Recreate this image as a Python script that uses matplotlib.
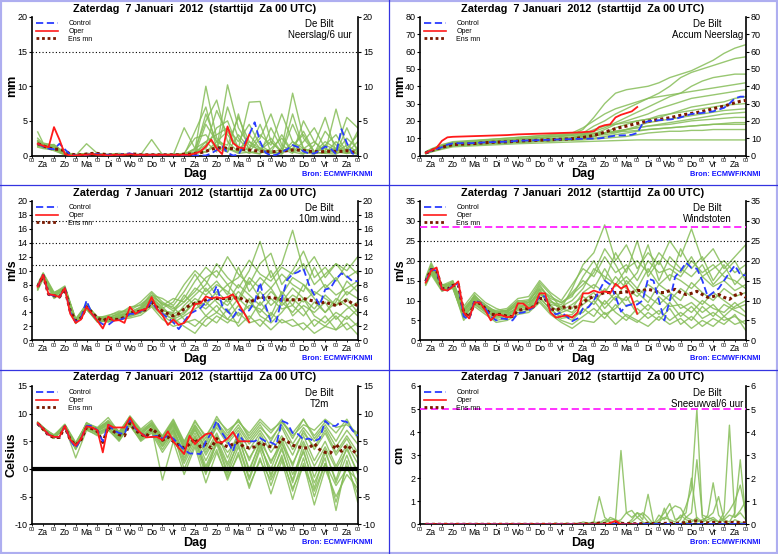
import matplotlib
matplotlib.use('Agg')
import matplotlib.pyplot as plt
from matplotlib.patches import Rectangle
from matplotlib.lines import Line2D

plt.rcParams['font.family'] = ['Liberation Sans', 'DejaVu Sans']

# ---------------- time axes (hours after Za 7 Jan 2012 00 UTC) ----------------
hours6 = list(range(6, 361, 6))          # control / ens mean, 6-hourly
hours_oper = list(range(6, 241, 6))      # operational run, 10 days
hours_mem = [6] + list(range(12, 361, 12))  # ensemble members (sampled 12-hourly)
day_names = ['Za', 'Zo', 'Ma', 'Di', 'Wo', 'Do', 'Vr', 'Za', 'Zo', 'Ma', 'Di', 'Wo', 'Do', 'Vr', 'Za']

title_text = 'Zaterdag  7 Januari  2012  (starttijd  Za 00 UTC)'
station = 'De Bilt'
source = 'Bron: ECMWF/KNMI'

# ---------------- Panel 1 : Neerslag / 6 uur (mm) ----------------
pr_control = [1.7, 1.3, 1.0, 0.9, 1.7, 0.9, 0.1, 0.0, 0.0, 0.1,
              0.2, 0.2, 0.1, 0.1, 0.1, 0.1, 0.2, 0.3, 0.1, 0.1,
              0.1, 0.1, 0.1, 0.1, 0.1, 0.1, 0.1, 0.0, 0.0, 0.0,
              0.0, 0.0, 0.3, 0.8, 1.3, 0.4, 0.0, 0.1, 1.5, 3.0,
              4.8, 2.0, 0.4, 0.0, 0.1, 0.5, 0.9, 1.5, 1.2, 0.6,
              0.3, 0.3, 0.7, 1.3, 1.0, 0.2, 3.8, 1.8, 0.3, 0.0]
pr_oper = [1.7, 1.4, 1.2, 4.1, 2.3, 0.2, 0.0, 0.0, 0.1, 0.1,
           0.2, 0.1, 0.1, 0.0, 0.1, 0.1, 0.1, 0.2, 0.1, 0.1,
           0.1, 0.1, 0.1, 0.1, 0.1, 0.1, 0.1, 0.1, 0.1, 0.3,
           0.6, 1.3, 2.3, 1.0, 0.2, 4.2, 1.8, 1.2, 1.0, 3.0]
pr_mean = [1.7, 1.4, 1.1, 0.9, 0.9, 0.7, 0.2, 0.1, 0.1, 0.2,
           0.3, 0.3, 0.2, 0.1, 0.1, 0.1, 0.1, 0.2, 0.2, 0.1,
           0.1, 0.1, 0.1, 0.1, 0.1, 0.1, 0.1, 0.2, 0.2, 0.3,
           0.4, 0.6, 0.9, 1.1, 1.1, 1.0, 1.0, 0.9, 0.9, 0.8,
           0.7, 0.6, 0.6, 0.5, 0.6, 0.6, 0.7, 0.8, 0.8, 0.7,
           0.6, 0.6, 0.5, 0.6, 0.6, 0.6, 0.6, 0.7, 0.5, 0.4]
pr_members = [
    [2.0, 1.5, 1.3, 0.2, 0.1, 0.3, 0.2, 0.1, 0.1, 0.1, 0.1, 0.1, 0.1, 0.2, 0.2, 0.8, 10.0, 2.5, 1.0, 0.5, 3.0, 1.0, 0.5, 0.3, 2.0, 0.5, 0.2, 1.5, 0.8, 0.3, 0.5],
    [1.5, 1.2, 1.0, 0.3, 0.0, 1.7, 0.3, 0.1, 0.2, 0.1, 0.0, 0.2, 0.1, 0.1, 0.3, 2.5, 3.0, 1.0, 10.2, 4.0, 1.5, 0.8, 2.0, 0.5, 1.0, 3.5, 0.5, 0.3, 0.2, 1.0, 0.2],
    [3.4, 1.8, 1.5, 0.4, 0.1, 0.2, 0.1, 0.1, 0.1, 0.2, 0.1, 2.3, 0.1, 0.1, 0.1, 0.5, 1.5, 6.5, 3.0, 1.0, 7.7, 7.8, 2.0, 0.5, 1.0, 0.3, 0.5, 2.0, 1.0, 0.5, 0.2],
    [1.2, 1.0, 0.8, 0.1, 0.0, 0.1, 0.1, 0.0, 0.1, 0.1, 0.1, 0.1, 0.2, 0.1, 4.0, 1.0, 0.5, 2.0, 1.5, 5.5, 2.0, 1.0, 0.3, 1.0, 9.0, 2.5, 0.5, 1.0, 0.3, 4.0, 0.5],
    [1.8, 1.4, 1.6, 0.3, 0.1, 0.2, 0.2, 0.1, 0.1, 0.1, 0.2, 0.1, 0.1, 0.1, 0.2, 1.0, 5.0, 8.0, 2.0, 0.5, 1.0, 3.0, 1.5, 6.0, 2.0, 1.0, 0.3, 0.5, 6.7, 1.0, 3.0],
    [2.2, 1.6, 1.1, 0.2, 0.1, 0.2, 0.1, 0.1, 0.1, 0.1, 0.1, 0.1, 0.1, 0.2, 0.1, 0.3, 2.0, 0.5, 7.0, 2.5, 0.5, 0.3, 1.0, 2.5, 0.5, 0.2, 1.5, 5.5, 0.5, 0.3, 1.0],
    [1.4, 1.3, 0.9, 0.2, 0.0, 0.1, 0.1, 0.1, 0.1, 0.1, 0.1, 0.1, 0.1, 0.1, 0.1, 3.5, 7.0, 1.0, 0.5, 6.0, 0.5, 0.2, 4.0, 1.0, 0.3, 5.0, 2.0, 0.5, 1.0, 5.5, 4.0],
    [2.5, 1.7, 1.4, 0.5, 0.1, 0.3, 0.2, 0.2, 0.3, 0.1, 0.1, 0.1, 0.1, 0.1, 0.2, 0.5, 1.0, 4.0, 5.0, 1.0, 2.0, 0.5, 0.3, 0.5, 4.5, 1.0, 0.5, 0.3, 2.0, 0.5, 0.3],
    [1.6, 1.1, 1.2, 0.3, 0.1, 0.2, 0.1, 0.1, 0.1, 0.1, 0.1, 0.1, 0.1, 0.1, 0.1, 0.2, 4.5, 2.0, 1.0, 0.3, 0.5, 2.5, 6.0, 1.5, 0.5, 2.0, 4.0, 1.0, 0.5, 2.5, 1.0],
    [1.9, 1.5, 1.0, 0.2, 0.0, 0.1, 0.1, 0.0, 0.1, 0.1, 0.1, 0.1, 0.1, 0.1, 0.1, 1.0, 2.0, 3.0, 4.0, 2.0, 4.5, 1.5, 0.5, 0.2, 1.5, 3.0, 0.5, 1.5, 3.0, 0.5, 3.5],
    [1.3, 1.2, 0.7, 0.1, 0.0, 0.1, 0.1, 0.1, 0.1, 0.1, 0.1, 0.1, 0.1, 0.1, 0.2, 0.3, 0.5, 1.5, 0.5, 3.0, 1.0, 4.5, 0.5, 3.0, 0.5, 1.0, 0.3, 3.5, 1.5, 0.3, 2.0],
    [2.1, 1.4, 1.3, 0.2, 0.1, 0.2, 0.1, 0.1, 0.1, 0.1, 0.1, 0.1, 0.1, 0.1, 0.1, 0.4, 6.0, 2.0, 3.5, 1.0, 0.3, 1.0, 2.5, 0.5, 6.0, 1.0, 2.0, 0.5, 0.5, 1.5, 0.5],
]

# ---------------- Panel 2 : Accum Neerslag (mm) ----------------
ac_control = [1.5, 2.8, 3.8, 4.8, 6.3, 7.0, 7.1, 7.1, 7.1, 7.2,
              7.4, 7.6, 7.7, 7.8, 7.9, 8.0, 8.2, 8.5, 8.6, 8.7,
              8.8, 8.9, 9.0, 9.1, 9.2, 9.3, 9.4, 9.5, 9.6, 9.6,
              9.7, 9.8, 9.9, 10.3, 11.0, 11.5, 11.6, 11.7, 12.0, 13.0,
              18.5, 19.8, 20.0, 20.4, 20.6, 20.8, 21.2, 22.0, 23.0, 24.0,
              24.3, 24.6, 25.0, 25.5, 26.5, 27.5, 30.0, 33.0, 34.0, 34.0]
ac_oper = [1.5, 3.0, 4.5, 8.5, 10.5, 10.8, 10.9, 11.0, 11.1, 11.2,
           11.3, 11.4, 11.5, 11.6, 11.7, 11.8, 12.0, 12.2, 12.3, 12.4,
           12.5, 12.6, 12.7, 12.8, 12.9, 13.0, 13.1, 13.2, 13.3, 13.5,
           13.7, 14.0, 16.5, 17.5, 18.0, 22.0, 23.5, 24.5, 25.5, 28.0]
ac_mean = [1.5, 2.8, 3.8, 4.7, 5.6, 6.3, 6.5, 6.6, 6.7, 6.9,
           7.2, 7.4, 7.6, 7.7, 7.8, 7.9, 8.1, 8.3, 8.5, 8.6,
           8.7, 8.9, 9.0, 9.1, 9.3, 9.4, 9.5, 9.7, 10.0, 10.5,
           11.0, 11.6, 12.5, 13.5, 14.5, 15.5, 16.3, 17.0, 17.8, 18.5,
           19.2, 19.8, 20.3, 20.8, 21.3, 21.8, 22.5, 23.2, 23.8, 24.3,
           24.8, 25.5, 26.2, 27.0, 27.8, 28.5, 29.5, 30.5, 31.3, 31.8]
ac_members = [
    [1.5, 2.8, 5.0, 6.5, 7.0, 7.5, 8.0, 8.5, 9.0, 9.5, 10.0, 10.5, 11.0, 11.5, 12.0, 15.0, 22.0, 30.0, 36.0, 38.0, 39.0, 40.0, 42.0, 45.0, 47.0, 49.0, 52.0, 55.0, 59.0, 62.0, 64.0],
    [1.8, 3.2, 5.5, 7.0, 7.5, 8.0, 8.3, 8.6, 9.0, 9.4, 9.8, 10.2, 10.6, 11.0, 11.5, 13.0, 17.0, 20.0, 24.0, 27.0, 30.0, 33.0, 36.0, 40.0, 45.0, 48.0, 50.0, 52.0, 54.0, 56.0, 57.0],
    [1.2, 2.5, 4.5, 6.0, 6.5, 7.0, 7.3, 7.6, 8.0, 8.4, 8.8, 9.2, 9.6, 10.0, 10.5, 12.0, 14.0, 16.0, 19.0, 22.0, 25.0, 28.0, 31.0, 34.0, 36.0, 40.0, 43.0, 45.0, 46.0, 47.0, 47.0],
    [2.0, 3.5, 6.0, 7.5, 8.0, 8.5, 9.0, 9.5, 10.0, 10.5, 11.0, 11.5, 12.0, 12.5, 13.0, 16.0, 20.0, 24.0, 27.0, 29.0, 31.0, 33.0, 34.0, 35.0, 36.0, 37.0, 38.0, 39.0, 40.0, 41.0, 42.0],
    [1.0, 2.2, 4.0, 5.5, 6.0, 6.3, 6.6, 7.0, 7.4, 7.8, 8.2, 8.6, 9.0, 9.4, 10.0, 11.0, 12.5, 15.0, 18.0, 20.0, 22.0, 24.0, 27.0, 29.0, 31.0, 33.0, 34.0, 35.0, 36.0, 37.0, 38.0],
    [1.6, 3.0, 5.0, 6.5, 7.0, 7.2, 7.5, 7.8, 8.1, 8.4, 8.7, 9.0, 9.3, 9.6, 10.0, 10.5, 11.0, 13.0, 16.0, 18.0, 20.0, 21.0, 22.0, 24.0, 26.0, 28.0, 29.0, 30.0, 31.0, 33.0, 34.0],
    [1.4, 2.6, 4.6, 6.2, 6.6, 7.0, 7.3, 7.6, 8.0, 8.3, 8.6, 9.0, 9.3, 9.6, 10.0, 12.0, 15.0, 17.0, 18.0, 19.0, 20.0, 21.0, 23.0, 24.0, 25.0, 26.0, 27.0, 28.0, 29.0, 29.5, 30.0],
    [1.7, 3.0, 5.2, 6.8, 7.2, 7.6, 8.0, 8.3, 8.6, 8.9, 9.2, 9.5, 9.8, 10.1, 10.5, 11.0, 11.5, 12.0, 13.0, 15.0, 17.0, 19.0, 20.0, 21.0, 22.0, 23.0, 24.0, 25.0, 26.0, 26.5, 27.0],
    [1.3, 2.4, 4.3, 5.8, 6.2, 6.5, 6.8, 7.1, 7.4, 7.7, 8.0, 8.3, 8.6, 8.9, 9.2, 10.0, 11.0, 13.0, 14.0, 15.0, 16.0, 17.0, 18.0, 19.0, 20.0, 21.0, 22.0, 23.0, 24.0, 24.5, 25.0],
    [1.9, 3.3, 5.6, 7.2, 7.6, 8.0, 8.4, 8.8, 9.2, 9.6, 10.0, 10.4, 10.8, 11.2, 11.6, 12.0, 12.5, 13.0, 14.0, 15.0, 16.0, 17.0, 17.5, 18.0, 19.0, 20.0, 20.5, 21.0, 21.5, 22.0, 22.0],
    [1.1, 2.3, 4.1, 5.6, 6.0, 6.3, 6.6, 6.9, 7.2, 7.5, 7.8, 8.1, 8.4, 8.7, 9.0, 9.5, 10.0, 11.0, 12.0, 13.0, 14.0, 15.0, 15.5, 16.0, 16.5, 17.0, 17.5, 18.0, 18.5, 19.0, 19.0],
    [1.5, 2.7, 4.8, 6.3, 6.7, 7.0, 7.2, 7.4, 7.6, 7.8, 8.0, 8.2, 8.4, 8.6, 8.8, 9.0, 9.5, 10.0, 10.5, 11.0, 12.0, 13.0, 13.5, 14.0, 14.0, 14.5, 14.5, 15.0, 15.0, 15.0, 15.0],
    [2.2, 3.8, 6.3, 8.0, 8.4, 8.8, 9.2, 9.6, 10.0, 10.4, 10.8, 11.2, 11.6, 12.0, 12.4, 12.8, 13.0, 13.2, 13.5, 14.0, 14.5, 15.0, 15.5, 16.0, 16.5, 17.0, 17.5, 18.0, 18.0, 18.0, 18.0],
    [1.0, 2.0, 3.6, 5.0, 5.3, 5.6, 5.9, 6.2, 6.5, 6.8, 7.0, 7.2, 7.4, 7.6, 7.8, 8.0, 8.2, 8.4, 8.6, 8.8, 9.0, 9.0, 9.0, 9.0, 9.0, 9.0, 9.0, 9.0, 9.0, 9.0, 9.0],
]

# ---------------- Panel 3 : 10m wind (m/s) ----------------
wi_control = [7.7, 9.4, 6.6, 6.4, 6.2, 7.5, 4.0, 2.6, 3.2, 5.7,
              3.8, 2.8, 2.3, 2.2, 2.8, 2.9, 3.2, 3.8, 3.8, 4.2,
              4.6, 5.5, 4.5, 3.8, 3.2, 2.6, 1.6, 2.7, 3.8, 4.2,
              4.6, 5.5, 6.0, 7.8, 5.0, 4.2, 3.3, 4.5, 4.0, 4.3,
              5.5, 8.3, 5.0, 2.7, 2.7, 6.0, 8.7, 9.5, 9.8, 10.3,
              8.0, 6.5, 5.0, 7.3, 7.5, 8.8, 9.6, 9.2, 8.5, 8.5]
wi_oper = [7.7, 9.4, 6.6, 6.5, 6.2, 7.5, 3.8, 2.5, 3.0, 4.8,
           3.8, 2.8, 1.7, 3.4, 2.8, 2.9, 2.5, 4.8, 3.8, 4.3,
           4.5, 6.2, 4.5, 3.6, 2.2, 3.0, 2.2, 2.5, 3.5, 5.2,
           5.3, 6.3, 6.0, 6.2, 6.0, 6.2, 6.6, 5.3, 4.0, 2.6]
wi_mean = [7.7, 9.3, 6.6, 6.4, 6.2, 7.4, 4.2, 2.8, 3.2, 4.8,
           4.0, 3.2, 2.8, 3.2, 3.0, 3.0, 3.3, 4.0, 4.0, 4.2,
           4.4, 5.5, 4.7, 4.2, 3.8, 3.5, 3.8, 4.5, 5.0, 5.3,
           5.5, 5.8, 6.0, 6.0, 6.0, 6.0, 6.0, 6.2, 5.8, 5.5,
           5.8, 6.3, 6.0, 6.2, 6.0, 5.8, 5.8, 5.8, 5.8, 6.0,
           5.8, 5.6, 5.3, 5.5, 5.2, 5.0, 5.3, 5.8, 5.3, 5.0]
wi_members = [
    [7.2, 8.8, 6.0, 7.0, 2.4, 4.5, 2.6, 2.8, 3.5, 3.8, 4.5, 6.0, 4.0, 3.0, 5.0, 6.5, 8.0, 11.0, 9.0, 7.5, 10.0, 14.2, 9.0, 11.0, 15.8, 10.0, 12.0, 9.0, 11.0, 10.0, 12.0],
    [8.0, 9.6, 6.8, 7.8, 3.0, 5.2, 3.2, 3.6, 4.0, 4.5, 5.5, 7.0, 5.5, 4.5, 6.0, 8.5, 10.5, 9.0, 12.0, 9.5, 8.0, 11.0, 12.5, 8.0, 10.0, 12.8, 9.0, 10.5, 8.5, 11.0, 9.5],
    [7.5, 9.0, 6.4, 7.2, 2.6, 4.8, 2.9, 3.0, 3.2, 3.5, 4.0, 5.0, 3.5, 2.5, 3.5, 4.5, 5.5, 4.0, 6.0, 3.5, 5.0, 4.5, 3.0, 5.5, 4.0, 6.0, 3.5, 2.5, 4.0, 3.0, 4.5],
    [7.9, 9.2, 6.5, 7.6, 2.8, 5.0, 3.4, 3.3, 3.8, 4.8, 5.0, 6.5, 6.0, 5.0, 7.0, 9.5, 7.0, 8.5, 6.5, 10.5, 7.0, 9.0, 7.5, 9.5, 8.0, 7.0, 10.5, 7.5, 9.0, 6.5, 8.0],
    [7.3, 9.5, 6.2, 7.3, 2.5, 4.6, 2.7, 2.7, 3.0, 3.2, 3.6, 4.8, 3.0, 2.0, 2.5, 3.0, 2.0, 3.5, 2.5, 4.0, 2.5, 3.0, 1.5, 3.0, 2.0, 2.5, 1.0, 2.0, 1.5, 2.5, 0.8],
    [7.8, 9.1, 6.7, 7.4, 2.7, 5.3, 3.0, 3.5, 4.2, 4.0, 4.8, 6.8, 5.0, 6.0, 5.5, 7.5, 6.5, 8.0, 7.0, 5.5, 8.5, 6.0, 7.5, 5.0, 6.5, 5.5, 7.0, 6.0, 5.0, 7.0, 6.0],
    [7.6, 9.4, 6.3, 7.7, 2.9, 4.4, 2.8, 2.9, 3.6, 3.9, 4.2, 5.5, 4.5, 3.5, 4.0, 5.5, 4.5, 6.0, 5.0, 7.0, 5.5, 4.0, 6.0, 4.5, 5.0, 3.5, 5.5, 4.0, 6.0, 5.0, 3.5],
    [7.4, 8.9, 6.6, 7.1, 2.5, 4.7, 3.1, 2.6, 3.3, 3.6, 4.3, 5.8, 4.2, 4.0, 6.5, 5.0, 7.5, 5.5, 4.0, 6.0, 4.5, 7.0, 5.0, 6.5, 3.5, 5.0, 4.0, 5.5, 3.0, 4.5, 5.5],
    [8.1, 9.7, 6.9, 7.5, 3.1, 5.1, 3.3, 3.2, 3.9, 4.3, 5.2, 6.3, 5.2, 4.8, 3.0, 2.0, 3.5, 2.5, 4.5, 2.0, 3.5, 2.0, 4.0, 2.5, 3.0, 1.5, 3.0, 2.0, 3.5, 1.5, 2.5],
    [7.7, 9.3, 6.5, 7.3, 2.6, 4.9, 2.9, 3.1, 3.4, 3.7, 4.6, 6.1, 4.8, 3.2, 2.0, 1.0, 3.0, 4.0, 3.0, 5.0, 3.0, 5.5, 3.5, 7.0, 5.0, 8.0, 6.0, 4.0, 5.5, 8.5, 7.0],
    [7.5, 9.0, 6.6, 7.5, 2.8, 5.0, 3.0, 3.0, 3.5, 4.0, 4.5, 6.0, 4.6, 5.5, 8.0, 10.0, 8.5, 6.5, 8.0, 6.0, 9.0, 7.5, 10.0, 6.5, 9.0, 8.0, 6.5, 8.0, 6.5, 7.5, 8.5],
    [7.8, 9.5, 6.4, 7.6, 2.6, 4.7, 2.7, 2.8, 3.1, 3.4, 3.9, 5.2, 3.8, 3.0, 3.8, 5.5, 3.5, 5.0, 3.0, 2.5, 6.0, 3.5, 2.5, 4.0, 6.0, 4.5, 2.0, 3.5, 1.5, 3.5, 2.0],
    [7.6, 9.2, 6.7, 7.4, 2.7, 4.8, 3.0, 3.2, 3.7, 4.1, 4.7, 6.4, 5.3, 4.2, 5.5, 7.0, 9.0, 10.0, 8.0, 9.0, 11.5, 9.5, 8.5, 10.5, 9.5, 11.0, 8.0, 9.5, 11.0, 9.0, 10.0],
    [7.4, 9.3, 6.5, 7.2, 2.5, 4.6, 2.8, 2.7, 3.3, 3.8, 4.1, 5.6, 4.3, 3.8, 4.5, 6.0, 5.0, 7.0, 5.5, 8.0, 6.5, 5.0, 7.0, 5.5, 7.5, 6.0, 4.5, 6.5, 5.0, 6.0, 4.0],
]

# ---------------- Panel 4 : Windstoten (m/s) ----------------
gu_control = [14.8, 17.8, 17.5, 12.8, 12.5, 13.8, 14.3, 6.0, 5.2, 10.0,
              9.5, 8.0, 6.0, 5.0, 5.5, 5.3, 5.0, 6.8, 7.0, 7.5,
              8.5, 11.2, 11.0, 7.5, 6.5, 7.0, 6.0, 4.8, 5.5, 8.0,
              8.3, 10.0, 12.5, 15.0, 14.0, 11.0, 7.2, 8.7, 9.0, 9.0,
              10.0, 15.5, 15.0, 10.0, 5.0, 10.0, 16.0, 17.5, 19.5, 18.2,
              18.0, 15.0, 11.0, 12.0, 13.0, 15.0, 17.0, 18.8, 16.5, 16.3]
gu_oper = [14.5, 17.5, 18.3, 12.8, 12.5, 13.5, 14.8, 7.0, 5.5, 9.5,
           9.5, 7.5, 5.0, 6.5, 6.3, 5.8, 6.0, 9.3, 9.2, 8.0,
           8.5, 11.8, 11.8, 7.0, 5.7, 6.0, 6.3, 5.7, 7.0, 11.8,
           11.8, 12.5, 12.0, 12.3, 11.8, 14.2, 13.0, 13.8, 10.5, 6.7]
gu_mean = [14.8, 17.8, 17.5, 13.0, 12.8, 13.8, 14.0, 7.0, 5.8, 9.5,
           9.3, 8.0, 6.5, 6.5, 6.5, 6.0, 6.0, 7.5, 7.8, 8.0,
           8.5, 10.5, 10.5, 8.0, 7.5, 8.2, 8.5, 8.0, 8.5, 9.5,
           10.5, 11.0, 11.5, 12.0, 12.0, 12.0, 12.0, 12.2, 12.0, 12.5,
           12.5, 12.8, 12.5, 12.0, 12.0, 12.5, 12.8, 12.0, 11.5, 11.8,
           12.3, 11.5, 10.8, 11.0, 11.5, 10.8, 10.3, 11.3, 11.8, 10.8]
gu_members = [
    [15.0, 18.5, 13.5, 14.5, 8.0, 11.0, 9.0, 7.0, 7.5, 10.0, 9.5, 14.0, 10.0, 8.0, 13.0, 19.0, 22.0, 29.0, 20.0, 24.0, 18.0, 22.0, 19.0, 25.0, 21.0, 28.0, 20.0, 23.0, 18.0, 21.0, 24.0],
    [14.0, 17.0, 12.5, 13.0, 6.0, 9.0, 7.0, 5.0, 5.5, 7.0, 7.5, 10.0, 7.0, 5.0, 4.0, 6.0, 8.0, 5.5, 9.0, 6.0, 4.5, 7.0, 5.0, 8.0, 4.0, 6.0, 3.5, 5.5, 4.0, 6.5, 2.5],
    [15.5, 19.0, 13.8, 15.0, 7.5, 10.5, 8.5, 6.5, 7.0, 9.0, 10.0, 13.0, 11.0, 9.5, 11.0, 16.0, 20.0, 15.0, 22.0, 17.0, 25.0, 16.0, 20.0, 15.0, 23.0, 18.0, 21.0, 15.0, 19.0, 14.0, 17.0],
    [14.5, 17.5, 13.0, 14.0, 6.5, 10.0, 7.5, 6.0, 6.5, 8.5, 8.5, 12.0, 8.5, 7.0, 8.0, 12.0, 14.0, 12.0, 16.0, 13.0, 11.0, 14.0, 12.0, 10.0, 13.0, 11.0, 9.0, 12.0, 10.0, 8.0, 9.0],
    [13.8, 16.5, 12.3, 13.5, 5.0, 8.5, 6.5, 4.5, 5.0, 6.5, 7.0, 9.5, 6.5, 4.5, 3.0, 5.0, 4.5, 7.0, 4.0, 6.5, 5.0, 3.5, 6.0, 4.0, 5.5, 3.0, 5.0, 3.5, 6.0, 4.0, 5.0],
    [15.2, 18.0, 13.2, 14.2, 7.0, 11.5, 8.0, 7.5, 8.0, 10.5, 11.0, 15.0, 12.0, 10.0, 14.0, 18.0, 16.0, 21.0, 17.0, 19.0, 15.0, 20.0, 17.0, 18.0, 16.0, 20.0, 17.0, 19.0, 16.0, 15.0, 13.0],
    [14.3, 17.2, 12.8, 13.2, 5.5, 9.5, 7.5, 5.5, 6.0, 7.5, 8.0, 11.0, 7.5, 6.0, 6.5, 9.0, 11.0, 9.0, 12.0, 8.5, 10.0, 7.5, 11.0, 8.5, 9.0, 7.0, 10.0, 8.0, 7.0, 9.5, 7.0],
    [14.8, 18.2, 13.0, 14.8, 8.5, 12.0, 9.5, 8.0, 7.0, 9.5, 9.0, 12.5, 9.0, 8.5, 10.0, 13.0, 18.0, 16.0, 14.0, 18.0, 20.0, 17.0, 22.0, 19.0, 17.0, 21.0, 16.0, 18.0, 20.0, 17.0, 19.0],
    [14.6, 17.8, 13.5, 13.8, 6.2, 9.8, 8.0, 6.2, 6.8, 8.0, 9.5, 11.5, 10.0, 7.5, 9.0, 11.0, 9.0, 13.0, 10.0, 15.0, 12.0, 9.5, 14.0, 12.0, 10.0, 14.5, 12.0, 10.0, 13.0, 11.0, 12.0],
    [15.8, 19.5, 14.0, 14.0, 7.2, 10.2, 8.2, 6.8, 7.2, 8.8, 8.8, 12.8, 8.8, 6.5, 5.0, 8.0, 6.0, 10.0, 7.0, 5.0, 8.0, 5.5, 7.5, 5.0, 7.0, 5.0, 8.5, 6.0, 9.0, 7.5, 6.0],
    [14.2, 17.0, 12.6, 13.6, 6.8, 10.8, 7.8, 6.6, 6.4, 8.2, 8.2, 11.8, 9.5, 9.0, 12.0, 15.0, 13.0, 18.0, 13.5, 16.0, 13.0, 18.0, 14.0, 16.5, 15.0, 13.0, 16.0, 13.5, 15.0, 12.5, 14.0],
    [15.0, 18.8, 13.6, 14.6, 7.8, 11.2, 8.8, 7.2, 7.6, 9.8, 10.2, 14.5, 11.5, 8.0, 7.0, 10.0, 12.0, 8.0, 11.0, 10.0, 13.0, 11.0, 9.0, 11.5, 8.0, 9.5, 7.0, 9.0, 6.0, 8.5, 10.0],
    [14.4, 17.6, 12.9, 13.4, 6.0, 9.2, 7.2, 5.8, 6.2, 7.8, 7.8, 10.5, 8.0, 5.5, 6.0, 7.0, 10.0, 6.5, 8.0, 11.0, 6.5, 9.0, 6.5, 9.5, 6.0, 8.5, 5.5, 7.0, 5.0, 6.0, 4.0],
    [15.4, 18.4, 13.4, 14.4, 7.4, 10.6, 8.4, 7.0, 7.4, 9.2, 9.6, 13.5, 10.5, 9.5, 11.5, 14.0, 17.0, 23.0, 19.0, 14.0, 17.0, 24.0, 15.0, 21.0, 18.0, 16.0, 19.0, 14.0, 17.0, 20.0, 15.0],
]

# ---------------- Panel 5 : T2m (Celsius) ----------------
t2_control = [8.2, 7.3, 6.2, 5.8, 5.8, 7.8, 5.2, 3.8, 5.5, 7.8,
              7.8, 7.0, 5.0, 8.0, 7.0, 6.5, 6.3, 9.0, 7.3, 6.5,
              5.8, 5.8, 6.0, 5.5, 6.0, 5.5, 4.5, 3.5, 2.8, 2.8,
              2.7, 5.0, 6.5, 8.7, 6.5, 5.0, 3.2, 6.3, 5.0, 5.0,
              5.0, 5.6, 5.0, 4.8, 4.3, 8.7, 8.3, 6.5, 6.3, 5.3,
              5.5, 5.0, 5.5, 8.7, 7.8, 7.8, 8.7, 8.5, 7.0, 6.0]
t2_oper = [8.3, 7.3, 6.2, 5.8, 5.8, 7.8, 5.3, 4.2, 5.5, 7.7,
           7.5, 7.0, 3.0, 8.0, 7.5, 7.5, 7.5, 9.3, 7.5, 6.5,
           5.7, 5.8, 5.8, 5.2, 6.8, 5.0, 3.8, 2.7, 6.0, 4.5,
           5.5, 6.3, 6.5, 4.8, 4.8, 5.5, 6.7, 5.0, 5.0, 5.0]
t2_mean = [8.2, 7.2, 6.1, 5.7, 5.7, 7.6, 5.3, 4.3, 5.3, 7.5,
           7.3, 6.8, 4.8, 7.6, 6.8, 6.2, 6.0, 8.3, 7.0, 6.3,
           5.8, 7.3, 6.5, 5.2, 5.8, 5.0, 4.3, 3.8, 4.5, 5.5,
           4.0, 4.5, 3.8, 5.5, 4.5, 4.0, 4.5, 4.8, 4.0, 3.8,
           4.0, 4.8, 4.3, 4.0, 4.0, 5.5, 5.0, 4.3, 4.0, 3.8,
           3.8, 4.6, 3.5, 3.0, 2.9, 4.5, 3.2, 4.3, 3.5, 2.5]
t2_members = [
    [8.4, 7.5, 5.9, 8.0, 4.5, 8.2, 7.4, 8.5, 6.5, 9.5, 6.8, 7.8, 5.8, 8.5, 4.5, 8.0, 5.0, 8.5, 6.0, 9.0, 5.5, 8.0, 5.0, 8.5, 6.5, 9.0, 5.5, 8.0, 5.0, 8.5, 6.0],
    [8.0, 7.1, 5.6, 7.6, 3.8, 7.5, 6.5, 7.5, 5.5, 8.5, 5.5, 7.0, 4.5, 7.0, 3.0, 6.5, 2.5, 6.0, 3.0, 5.5, 2.0, 5.0, 1.5, 4.5, 1.0, 5.0, 0.5, 4.0, 0.0, 3.5, -0.5],
    [8.2, 7.3, 5.8, 7.9, 4.2, 7.9, 7.0, 8.0, 6.0, 9.0, 6.2, 8.0, 5.2, 7.8, 3.8, 7.0, 4.0, 7.5, 4.5, 7.0, 3.5, 6.5, 3.0, 6.0, 2.5, 7.0, 3.5, 6.5, 2.5, 5.5, 2.0],
    [8.3, 7.4, 5.7, 7.7, 2.0, 7.0, 6.2, 7.2, 5.0, 8.0, 5.0, 6.5, 3.0, 6.0, 1.0, 5.0, 0.0, 4.5, -1.0, 4.0, -2.0, 3.5, -3.0, 2.5, -4.0, 2.0, -5.0, 1.0, -6.0, 0.5, -4.5],
    [8.1, 7.2, 6.0, 7.8, 4.0, 8.4, 7.2, 8.8, 6.8, 9.3, 7.0, 8.3, 6.0, 9.0, 5.0, 8.5, 6.0, 9.0, 7.0, 8.5, 6.5, 9.0, 7.0, 8.5, 6.0, 8.0, 7.0, 9.0, 7.5, 8.0, 6.5],
    [8.5, 7.6, 5.8, 7.5, 4.3, 7.6, 6.8, 8.2, 5.8, 8.8, 6.0, 7.5, 4.8, 7.5, 2.5, 6.0, 1.5, 5.5, 1.0, 6.0, -0.5, 5.0, -1.5, 4.0, -2.5, 3.5, -3.5, 3.0, -2.0, 4.0, -1.0],
    [8.2, 7.0, 5.5, 7.4, 3.5, 7.2, 6.0, 7.0, 5.2, 7.8, 5.2, 6.8, 3.5, 6.5, 0.0, 4.5, -1.0, 5.0, 0.5, 4.5, -1.5, 4.0, 0.0, 5.0, -1.0, 3.0, -2.5, 2.0, -7.5, 1.5, -6.0],
    [8.3, 7.5, 6.1, 8.1, 4.8, 8.0, 7.3, 8.6, 6.3, 9.2, 6.5, 8.5, 5.5, 8.2, 4.2, 7.5, 3.5, 8.0, 5.0, 7.5, 4.5, 7.0, 4.0, 7.5, 3.5, 6.5, 4.0, 7.0, 3.0, 6.0, 3.0],
    [8.0, 7.2, 5.9, 7.7, 4.1, 7.7, 6.9, 7.8, 6.2, 8.6, 5.8, 7.2, 4.2, 7.2, 2.0, 5.5, -0.5, 3.5, -2.0, 3.0, -3.5, 2.0, -4.5, 1.5, -5.5, 1.0, -6.5, 0.0, -5.0, -1.0, -3.5],
    [8.4, 7.4, 5.7, 7.9, 4.4, 7.8, 7.1, 8.3, 5.9, 8.9, 6.3, 7.9, 5.0, 8.0, 3.5, 7.2, 3.0, 6.5, 2.0, 6.5, 1.5, 6.0, 1.0, 5.5, 0.5, 6.0, 1.5, 5.0, 0.5, 4.5, 1.0],
    [8.1, 7.3, 6.2, 7.6, 3.9, 7.4, 6.6, 7.6, 5.6, 8.2, 5.6, 7.4, -2.0, 5.0, -1.0, 4.0, -2.5, 3.0, -1.5, 2.5, -3.0, 1.5, -2.0, 2.0, -3.5, 0.5, -4.0, 1.0, -3.0, 0.0, -2.0],
    [8.2, 7.3, 5.8, 7.8, 4.3, 8.1, 7.2, 8.4, 6.4, 9.1, 6.6, 8.1, 5.3, 8.3, 4.0, 7.8, 4.5, 8.3, 5.5, 8.0, 5.0, 7.5, 5.5, 8.0, 4.5, 7.5, 5.0, 7.5, 4.0, 7.0, 4.5],
    [8.3, 7.2, 5.6, 7.5, 3.6, 7.3, 6.4, 7.3, 5.3, 8.4, 5.3, 7.0, 4.0, 6.8, 1.5, 5.8, 0.5, 5.0, -0.5, 5.5, 0.0, 4.5, -1.0, 3.5, -2.0, 4.5, -1.5, 3.5, -2.5, 2.5, -3.0],
    [8.2, 7.4, 6.0, 8.0, 4.6, 8.3, 7.5, 9.3, 6.6, 9.6, 7.2, 8.8, 5.8, 8.8, 4.8, 8.8, 5.5, 9.5, 6.5, 8.8, 6.0, 8.5, 6.5, 9.0, 5.5, 9.0, 6.0, 8.5, 6.5, 9.0, 5.5],
]

# ---------------- Panel 6 : Sneeuwval / 6 uur (cm) ----------------
sn_control = [0.0] * 60
sn_oper = [0.0, 0.0, 0.0, 0.0, 0.0, 0.0, 0.0, 0.0, 0.0, 0.0,
           0.0, 0.0, 0.0, 0.0, 0.0, 0.0, 0.0, 0.0, 0.0, 0.0,
           0.0, 0.0, 0.0, 0.0, 0.0, 0.0, 0.0, 0.0, 0.0, 0.0,
           0.0, 0.0, 0.0, 0.0, 0.05, 0.15, 0.0, 0.0, 0.0, 0.0]
sn_mean = [0.0, 0.0, 0.0, 0.0, 0.0, 0.0, 0.0, 0.0, 0.0, 0.0,
           0.0, 0.0, 0.0, 0.0, 0.0, 0.0, 0.0, 0.0, 0.0, 0.0,
           0.0, 0.0, 0.0, 0.0, 0.0, 0.0, 0.0, 0.0, 0.01, 0.02,
           0.02, 0.03, 0.05, 0.03, 0.03, 0.08, 0.04, 0.03, 0.03, 0.02,
           0.03, 0.04, 0.03, 0.03, 0.04, 0.05, 0.04, 0.05, 0.08, 0.12,
           0.15, 0.08, 0.06, 0.08, 0.07, 0.08, 0.09, 0.07, 0.08, 0.06]
sn_members = [
    [0.0, 0.0, 0.0, 0.0, 0.0, 0.0, 0.0, 0.0, 0.0, 0.0, 0.0, 0.0, 0.0, 0.0, 0.0, 0.0, 0.0, 0.0, 0.0, 0.0,
     0.0, 0.0, 0.0, 0.0, 0.0, 0.0, 0.0, 0.0, 0.0, 0.0, 0.05, 0.1, 1.2, 0.3, 0.1, 0.0, 0.0, 0.0, 0.0, 0.0,
     0.0, 0.1, 0.0, 0.0, 0.0, 0.0, 0.0, 0.0, 0.1, 0.0, 0.0, 0.0, 0.0, 0.0, 0.0, 0.0, 0.0, 0.0, 0.0, 0.0],
    [0.0, 0.0, 0.0, 0.0, 0.0, 0.0, 0.0, 0.0, 0.0, 0.0, 0.0, 0.0, 0.0, 0.0, 0.0, 0.0, 0.0, 0.0, 0.0, 0.0,
     0.0, 0.0, 0.0, 0.0, 0.0, 0.0, 0.0, 0.0, 0.0, 0.0, 0.0, 0.0, 0.0, 0.1, 0.2, 0.2, 3.2, 0.5, 0.6, 0.3,
     0.1, 0.0, 0.0, 0.0, 0.0, 0.0, 0.0, 0.0, 0.0, 0.0, 0.0, 0.0, 0.0, 0.0, 0.0, 0.0, 0.0, 0.0, 0.0, 0.0],
    [0.0, 0.0, 0.0, 0.0, 0.0, 0.0, 0.0, 0.0, 0.0, 0.0, 0.0, 0.0, 0.0, 0.0, 0.0, 0.0, 0.0, 0.0, 0.0, 0.0,
     0.0, 0.0, 0.0, 0.0, 0.0, 0.0, 0.0, 0.0, 0.0, 0.0, 0.0, 0.0, 0.0, 0.0, 0.0, 0.1, 0.2, 0.5, 0.3, 0.5,
     0.2, 1.3, 0.1, 0.0, 0.7, 0.1, 0.0, 0.0, 0.0, 0.0, 0.0, 0.0, 0.0, 0.0, 0.0, 0.0, 0.0, 0.0, 0.0, 0.0],
    [0.0, 0.0, 0.0, 0.0, 0.0, 0.0, 0.0, 0.0, 0.0, 0.0, 0.0, 0.0, 0.0, 0.0, 0.0, 0.0, 0.0, 0.0, 0.0, 0.0,
     0.0, 0.0, 0.0, 0.0, 0.0, 0.0, 0.0, 0.0, 0.0, 0.0, 0.0, 0.0, 0.0, 0.0, 0.0, 0.0, 0.0, 0.0, 0.0, 0.0,
     0.0, 0.0, 0.0, 0.2, 0.5, 0.9, 0.2, 0.3, 0.5, 2.0, 0.2, 0.1, 0.4, 1.8, 0.4, 0.1, 0.0, 0.2, 0.1, 0.0],
    [0.0, 0.0, 0.0, 0.0, 0.0, 0.0, 0.0, 0.0, 0.0, 0.0, 0.0, 0.0, 0.0, 0.0, 0.0, 0.0, 0.0, 0.0, 0.0, 0.0,
     0.0, 0.0, 0.0, 0.0, 0.0, 0.0, 0.0, 0.0, 0.0, 0.0, 0.0, 0.0, 0.0, 0.0, 0.0, 0.0, 0.0, 0.0, 0.0, 0.0,
     0.0, 0.0, 0.0, 0.0, 0.0, 0.0, 0.0, 0.2, 0.8, 1.5, 5.0, 0.3, 0.1, 0.2, 0.1, 0.5, 4.3, 0.3, 0.6, 1.0],
    [0.0, 0.0, 0.0, 0.0, 0.0, 0.0, 0.0, 0.0, 0.0, 0.0, 0.0, 0.0, 0.0, 0.0, 0.0, 0.0, 0.0, 0.0, 0.0, 0.0,
     0.0, 0.0, 0.0, 0.0, 0.0, 0.0, 0.0, 0.0, 0.0, 0.0, 0.0, 0.0, 0.0, 0.0, 0.0, 0.0, 0.0, 0.0, 0.0, 0.0,
     0.0, 0.0, 0.0, 0.0, 0.0, 0.0, 0.0, 0.0, 0.3, 0.5, 2.8, 0.4, 0.3, 0.5, 1.2, 0.2, 0.1, 0.5, 2.8, 0.3],
    [0.0, 0.0, 0.0, 0.0, 0.0, 0.0, 0.0, 0.0, 0.0, 0.0, 0.0, 0.0, 0.0, 0.0, 0.0, 0.0, 0.0, 0.0, 0.0, 0.0,
     0.0, 0.0, 0.0, 0.0, 0.05, 0.0, 0.0, 0.0, 0.05, 0.0, 0.0, 0.1, 0.05, 0.2, 0.1, 0.0, 0.0, 0.0, 0.1, 0.3,
     0.5, 0.3, 0.0, 0.4, 0.2, 0.6, 0.8, 0.7, 0.3, 0.2, 0.1, 0.2, 0.3, 0.2, 0.1, 0.3, 0.6, 1.0, 1.7, 0.5],
    [0.0, 0.0, 0.0, 0.0, 0.0, 0.0, 0.0, 0.0, 0.0, 0.0, 0.0, 0.0, 0.0, 0.0, 0.0, 0.0, 0.0, 0.0, 0.0, 0.0,
     0.0, 0.0, 0.0, 0.0, 0.0, 0.0, 0.05, 0.0, 0.0, 0.1, 0.05, 0.0, 0.1, 0.0, 0.3, 0.2, 0.1, 0.0, 0.2, 0.5,
     0.4, 0.1, 0.0, 0.1, 0.3, 0.2, 0.1, 0.4, 0.2, 0.1, 0.3, 0.1, 0.2, 0.3, 0.1, 0.2, 0.4, 0.3, 0.5, 0.2],
]

panels = [
    dict(name='Neerslag/6 uur', ylabel='mm', ylim=(0, 20), yticks=[0, 5, 10, 15, 20],
         members=pr_members, mem_hours=hours_mem, control=pr_control, oper=pr_oper, mean=pr_mean,
         dotted=[15], magenta=[], zero=False),
    dict(name='Accum Neerslag', ylabel='mm', ylim=(0, 80), yticks=list(range(0, 81, 10)),
         members=ac_members, mem_hours=hours_mem, control=ac_control, oper=ac_oper, mean=ac_mean,
         dotted=[], magenta=[], zero=False),
    dict(name='10m wind', ylabel='m/s', ylim=(0, 20), yticks=list(range(0, 21, 2)),
         members=wi_members, mem_hours=hours_mem, control=wi_control, oper=wi_oper, mean=wi_mean,
         dotted=[10.8, 13.9, 17.2], magenta=[], zero=False),
    dict(name='Windstoten', ylabel='m/s', ylim=(0, 35), yticks=list(range(0, 36, 5)),
         members=gu_members, mem_hours=hours_mem, control=gu_control, oper=gu_oper, mean=gu_mean,
         dotted=[20, 25], magenta=[28.5], zero=False),
    dict(name='T2m', ylabel='Celsius', ylim=(-10, 15), yticks=[-10, -5, 0, 5, 10, 15],
         members=t2_members, mem_hours=hours_mem, control=t2_control, oper=t2_oper, mean=t2_mean,
         dotted=[], magenta=[], zero=True),
    dict(name='Sneeuwval/6 uur', ylabel='cm', ylim=(0, 6), yticks=list(range(0, 7)),
         members=sn_members, mem_hours=hours6, control=sn_control, oper=sn_oper, mean=sn_mean,
         dotted=[], magenta=[5], zero=False),
]

W, H = 778, 554
fig = plt.figure(figsize=(W / 100, H / 100), dpi=100)
fig.patch.set_facecolor('white')

col_left = [32.3, 420.3]
ax_w = 325.4
row_top = [17.0, 201.0, 386.0]
ax_h = [138.5, 139.3, 138.3]

GREEN = '#86bd58'
for i, p in enumerate(panels):
    r, c = divmod(i, 2)
    left = col_left[c] / W
    bottom = 1 - (row_top[r] + ax_h[r]) / H
    ax = fig.add_axes([left, bottom, ax_w / W, ax_h[r] / H])
    hpx = ax_h[r]

    for m in p['members']:
        ax.plot(p['mem_hours'], m, color=GREEN, lw=1.0, alpha=0.85, zorder=2)
    for yv in p['dotted']:
        ax.axhline(yv, color='black', lw=0.8, ls=(0, (1, 2)), zorder=3)
    for yv in p['magenta']:
        ax.axhline(yv, color='#ff22ff', lw=1.3, ls=(0, (4, 2)), zorder=3)
    if p['zero']:
        ax.axhline(0, color='black', lw=3.0, zorder=3)

    ax.plot(hours6, p['mean'], color='#7a1800', lw=2.2, ls=(0, (1, 1)), zorder=4, label='Ens mn')
    ax.plot(hours6, p['control'], color='#2a3cff', lw=1.3, ls=(0, (4, 2)), zorder=5, label='Control')
    ax.plot(hours_oper, p['oper'], color='#ff1a1a', lw=1.3, zorder=6, label='Oper')

    ax.set_xlim(0, 360)
    ax.set_ylim(*p['ylim'])
    ax.set_yticks(p['yticks'])
    ax.set_yticklabels([str(v) for v in p['yticks']])
    ax.tick_params(axis='y', which='both', left=True, right=True, labelleft=True, labelright=True,
                   labelsize=6.5, length=2.5, width=0.8, pad=1.2, direction='out')
    ax.set_xticks(list(range(0, 361, 24)))
    ax.set_xticklabels(['00'] * 16)
    ax.set_xticks(list(range(12, 361, 24)), minor=True)
    ax.set_xticklabels(day_names, minor=True)
    ax.tick_params(axis='x', which='major', labelsize=4, length=1.5, width=0.6, pad=0.3)
    ax.tick_params(axis='x', which='minor', labelsize=6.2, length=1.5, width=0.6, pad=1.5)

    ax.spines['top'].set_visible(False)
    for s in ('left', 'right', 'bottom'):
        ax.spines[s].set_linewidth(1.2)
        ax.spines[s].set_color('black')

    ax.text(0.5, 1 + 8.5 / hpx, title_text, transform=ax.transAxes, ha='center', va='center',
            fontsize=7.8, fontweight='bold')
    ax.text(0.883, 1 - 7.0 / hpx, station, transform=ax.transAxes, ha='center', va='center', fontsize=7)
    ax.text(0.883, 1 - 18.0 / hpx, p['name'], transform=ax.transAxes, ha='center', va='center', fontsize=7)
    ax.text(0.5, -18.5 / hpx, 'Dag', transform=ax.transAxes, ha='center', va='center',
            fontsize=9, fontweight='bold')
    ax.text(1.044, -18.5 / hpx, source, transform=ax.transAxes, ha='right', va='center',
            fontsize=5.3, fontweight='bold', color='#1010ff')
    ax.text(-20.5 / ax_w, 0.5, p['ylabel'], transform=ax.transAxes, rotation=90, ha='center',
            va='center', fontsize=9, fontweight='bold')

    handles = [Line2D([], [], color='#2a3cff', lw=1.3, ls=(0, (4, 2))),
               Line2D([], [], color='#ff1a1a', lw=1.2),
               Line2D([], [], color='#7a1800', lw=2.0, ls=(0, (1, 1)))]
    leg = ax.legend(handles, ['Control', 'Oper', 'Ens mn'], loc='upper left', frameon=False,
                    fontsize=5, handlelength=3.2, handletextpad=1.5, labelspacing=0.1,
                    borderaxespad=0.2, borderpad=0.3)
    leg.set_zorder(10)

# frame and separators of the composite picture
fig.add_artist(Rectangle((0, 0), 1, 1, transform=fig.transFigure, fill=False,
                         edgecolor='#aeaef0', lw=3.0))
fig.add_artist(Line2D([389 / W, 389 / W], [0, 1], transform=fig.transFigure, color='#3434e0', lw=0.9))
for yy in (184.5, 369.5):
    fig.add_artist(Line2D([0, 1], [1 - yy / H, 1 - yy / H], transform=fig.transFigure,
                          color='#3434e0', lw=0.9))

fig.savefig('out.png', dpi=100)
